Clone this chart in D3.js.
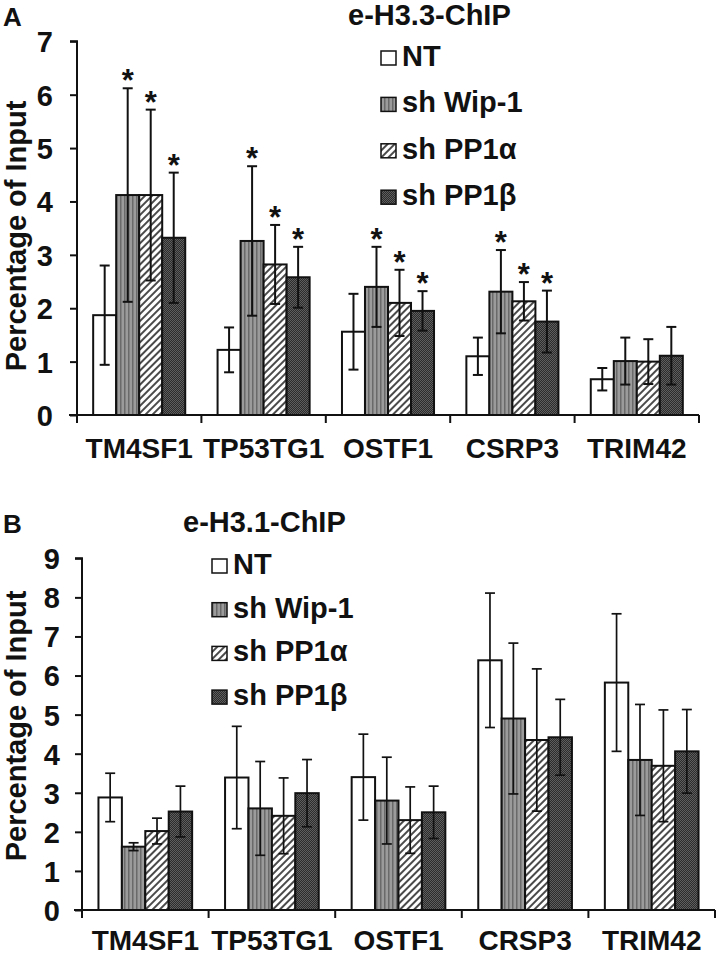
<!DOCTYPE html>
<html><head><meta charset="utf-8">
<script src="https://cdn.jsdelivr.net/npm/d3@7"></script>
<style>
html,body{margin:0;padding:0;background:#fff;}
svg text{font-family:"Liberation Sans",Arial,sans-serif;font-weight:bold;fill:#111;}
</style></head>
<body><svg id="c" width="720" height="958"></svg>
<script>
// ---------- data ----------
const seriesNames = ["NT", "sh Wip-1", "sh PP1α", "sh PP1β"];
const seriesKeys = ["nt", "wip", "pp1a", "pp1b"];

// Panel A: e-H3.3-ChIP
const catsA = ["TM4SF1", "TP53TG1", "OSTF1", "CSRP3", "TRIM42"];
const meanA_NT   = [1.87, 1.22, 1.56, 1.10, 0.67];
const meanA_Wip  = [4.12, 3.26, 2.40, 2.31, 1.01];
const meanA_PP1a = [4.12, 2.82, 2.10, 2.13, 1.00];
const meanA_PP1b = [3.32, 2.58, 1.95, 1.75, 1.11];
const errA_NT    = [0.93, 0.42, 0.71, 0.35, 0.21];
const errA_Wip   = [2.00, 1.40, 0.75, 0.78, 0.44];
const errA_PP1a  = [1.60, 0.74, 0.62, 0.36, 0.42];
const errA_PP1b  = [1.22, 0.57, 0.37, 0.58, 0.54];
const sigA_NT    = [0, 0, 0, 0, 0];
const sigA_Wip   = [1, 1, 1, 1, 0];
const sigA_PP1a  = [1, 1, 1, 1, 0];
const sigA_PP1b  = [1, 1, 1, 1, 0];
const ticksA = [0, 1, 2, 3, 4, 5, 6, 7];

// Panel B: e-H3.1-ChIP
const catsB = ["TM4SF1", "TP53TG1", "OSTF1", "CRSP3", "TRIM42"];
const meanB_NT   = [2.88, 3.39, 3.40, 6.39, 5.82];
const meanB_Wip  = [1.62, 2.60, 2.80, 4.90, 3.84];
const meanB_PP1a = [2.02, 2.41, 2.30, 4.35, 3.69];
const meanB_PP1b = [2.52, 2.99, 2.50, 4.42, 4.06];
const errB_NT    = [0.62, 1.31, 1.10, 1.72, 1.76];
const errB_Wip   = [0.10, 1.20, 1.11, 1.93, 1.42];
const errB_PP1a  = [0.33, 0.97, 0.85, 1.82, 1.43];
const errB_PP1b  = [0.65, 0.86, 0.67, 0.97, 1.07];
const ticksB = [0, 1, 2, 3, 4, 5, 6, 7, 8, 9];

const yTitle = "Percentage of Input";

// ---------- drawing ----------
const svg = d3.select("#c");
const defs = svg.append("defs");

// patterns
const pW = defs.append("pattern").attr("id", "p-wip").attr("patternUnits", "userSpaceOnUse")
  .attr("width", 4).attr("height", 4);
pW.append("rect").attr("width", 4).attr("height", 4).attr("fill", "#9b9b9b");
pW.append("rect").attr("width", 1.5).attr("height", 4).attr("fill", "#6a6a6a");

const pA = defs.append("pattern").attr("id", "p-pp1a").attr("patternUnits", "userSpaceOnUse")
  .attr("width", 5).attr("height", 5).attr("patternTransform", "rotate(45)");
pA.append("rect").attr("width", 5).attr("height", 5).attr("fill", "#fff");
pA.append("rect").attr("width", 2).attr("height", 5).attr("fill", "#4a4a4a");

const pB = defs.append("pattern").attr("id", "p-pp1b").attr("patternUnits", "userSpaceOnUse")
  .attr("width", 2).attr("height", 2);
pB.append("rect").attr("width", 2).attr("height", 2).attr("fill", "#2c2c2c");
pB.append("rect").attr("width", 1).attr("height", 1).attr("fill", "#5e5e5e");
pB.append("rect").attr("x", 1).attr("y", 1).attr("width", 1).attr("height", 1).attr("fill", "#5e5e5e");

const fills = {nt: "#fff", wip: "url(#p-wip)", pp1a: "url(#p-pp1a)", pp1b: "url(#p-pp1b)"};

function panel(cfg) {
  const g = svg.append("g");
  const x = d3.scaleBand().domain(cfg.cats).range([cfg.x0, cfg.x1]).paddingInner(0).paddingOuter(0);
  const bw = x.bandwidth();
  const xs = d3.scaleBand().domain(seriesKeys).range([bw * 0.13, bw * 0.87]).padding(0);
  const y = d3.scaleLinear().domain([0, cfg.ymax]).range([cfg.y0, cfg.y1]);

  const rows = [];
  cfg.cats.forEach((c, i) => {
    seriesKeys.forEach((k, j) => {
      rows.push({cat: c, key: k, m: cfg.means[j][i], e: cfg.errs[j][i], s: cfg.sigs ? cfg.sigs[j][i] : 0});
    });
  });

  // bars
  g.selectAll("rect.bar").data(rows).join("rect").attr("class", "bar")
    .attr("x", d => x(d.cat) + xs(d.key))
    .attr("width", xs.bandwidth())
    .attr("y", d => y(d.m))
    .attr("height", d => y(0) - y(d.m))
    .attr("fill", d => fills[d.key])
    .attr("stroke", "#111").attr("stroke-width", 2);

  // error bars
  const cap = 5;
  const eb = g.selectAll("g.eb").data(rows).join("g").attr("class", "eb")
    .attr("stroke", "#111").attr("stroke-width", cfg.ebw);
  eb.append("line")
    .attr("x1", d => x(d.cat) + xs(d.key) + xs.bandwidth() / 2)
    .attr("x2", d => x(d.cat) + xs(d.key) + xs.bandwidth() / 2)
    .attr("y1", d => y(d.m + d.e)).attr("y2", d => y(d.m - d.e));
  eb.append("line")
    .attr("x1", d => x(d.cat) + xs(d.key) + xs.bandwidth() / 2 - cap)
    .attr("x2", d => x(d.cat) + xs(d.key) + xs.bandwidth() / 2 + cap)
    .attr("y1", d => y(d.m + d.e)).attr("y2", d => y(d.m + d.e));
  eb.append("line")
    .attr("x1", d => x(d.cat) + xs(d.key) + xs.bandwidth() / 2 - cap)
    .attr("x2", d => x(d.cat) + xs(d.key) + xs.bandwidth() / 2 + cap)
    .attr("y1", d => y(d.m - d.e)).attr("y2", d => y(d.m - d.e));

  // significance stars
  g.selectAll("text.star").data(rows.filter(d => d.s)).join("text").attr("class", "star")
    .attr("x", d => x(d.cat) + xs(d.key) + xs.bandwidth() / 2)
    .attr("y", d => y(d.m + d.e) + 3)
    .attr("text-anchor", "middle").attr("font-size", 31).text("*");

  // y axis
  const ya = g.append("g").attr("transform", `translate(${cfg.x0},0)`)
    .call(d3.axisLeft(y).tickValues(cfg.ticks).tickFormat(d3.format("d")).tickSize(7).tickPadding(cfg.tpad));
  ya.select(".domain").attr("stroke", "#111").attr("stroke-width", 2)
    .attr("d", `M-7,${cfg.y1}H0V${cfg.y0 + 8}`);
  ya.selectAll(".tick line").attr("stroke", "#111").attr("stroke-width", 2);
  ya.selectAll(".tick text").attr("font-size", 29).attr("font-family", null).attr("dy", "0.36em");

  // x axis
  const xa = g.append("g").attr("transform", `translate(0,${cfg.y0})`)
    .call(d3.axisBottom(x).tickSize(0).tickPadding(0));
  xa.select(".domain").attr("stroke", "#111").attr("stroke-width", 2)
    .attr("d", `M${cfg.x0 - 8},0H${cfg.x1}`);
  xa.selectAll(".tick text").attr("font-size", 28).attr("font-family", null)
    .attr("dy", null).attr("y", cfg.labY - cfg.y0);
  // boundary ticks between categories
  xa.selectAll("line.bt").data(cfg.cats).join("line").attr("class", "bt")
    .attr("x1", d => x(d) + bw).attr("x2", d => x(d) + bw)
    .attr("y1", 0).attr("y2", 8).attr("stroke", "#111").attr("stroke-width", 2);

  // y title
  g.append("text").attr("transform", `translate(${cfg.ytX},${cfg.ytY}) rotate(-90)`)
    .attr("text-anchor", "middle").attr("font-size", 29).text(yTitle);

  // panel letter & title
  g.append("text").attr("x", 3).attr("y", cfg.letterY).attr("font-size", 26).text(cfg.letter);
  g.append("text").attr("x", cfg.titleX).attr("y", cfg.titleY).attr("font-size", 29).text(cfg.title);

  // legend
  const lg = g.append("g");
  seriesKeys.forEach((k, j) => {
    const by = cfg.legY + j * cfg.legStep;
    lg.append("rect").attr("x", cfg.legX).attr("y", by - 15).attr("width", 15).attr("height", 14)
      .attr("fill", fills[k]).attr("stroke", "#111").attr("stroke-width", 1.5);
    lg.append("text").attr("x", cfg.legX + 21).attr("y", by).attr("font-size", 29).text(seriesNames[j]);
  });
}

panel({
  cats: catsA, x0: 77, x1: 699, y0: 415, y1: 41.3, ymax: 7, ticks: ticksA, tpad: 17, ebw: 2,
  means: [meanA_NT, meanA_Wip, meanA_PP1a, meanA_PP1b],
  errs: [errA_NT, errA_Wip, errA_PP1a, errA_PP1b],
  sigs: [sigA_NT, sigA_Wip, sigA_PP1a, sigA_PP1b],
  labY: 458, ytX: 26, ytY: 236,
  letter: "A", letterY: 26, title: "e-H3.3-ChIP", titleX: 348, titleY: 25,
  legX: 381, legY: 66, legStep: 46.4
});

panel({
  cats: catsB, x0: 82, x1: 715, y0: 910, y1: 558.3, ymax: 9, ticks: ticksB, tpad: 15, ebw: 1.7,
  means: [meanB_NT, meanB_Wip, meanB_PP1a, meanB_PP1b],
  errs: [errB_NT, errB_Wip, errB_PP1a, errB_PP1b],
  sigs: null,
  labY: 950, ytX: 26, ytY: 726,
  letter: "B", letterY: 533, title: "e-H3.1-ChIP", titleX: 183, titleY: 532,
  legX: 212, legY: 574, legStep: 43.7
});
</script></body></html>
